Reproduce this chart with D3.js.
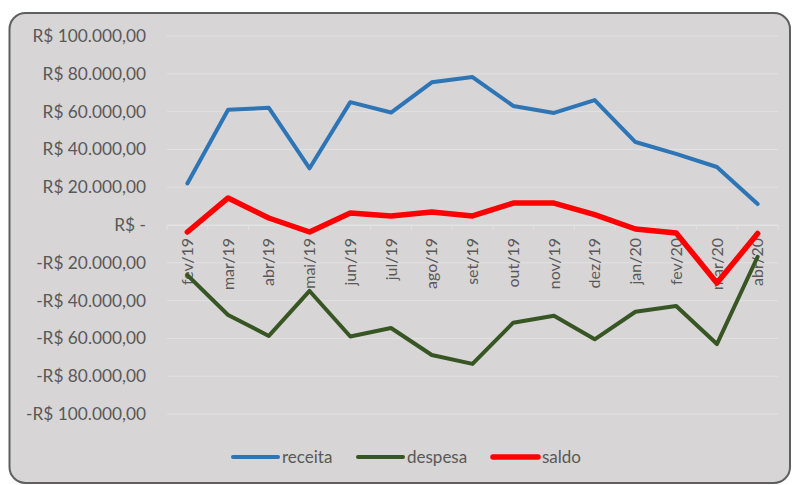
<!DOCTYPE html>
<html><head><meta charset="utf-8">
<script src="https://cdn.jsdelivr.net/npm/d3@7"></script>
<style>body{margin:0;background:#fff;}svg{display:block;}</style>
</head><body><svg id="c" width="792" height="485"></svg>
<script>
const months = ["fev/19","mar/19","abr/19","mai/19","jun/19","jul/19","ago/19","set/19","out/19","nov/19","dez/19","jan/20","fev/20","mar/20","abr/20"];
const receita = [22000,61000,62000,30000,65000,59500,75500,78300,63000,59300,66100,43900,37600,30700,11100];
const despesa = [-26500,-47600,-58700,-34900,-59000,-54500,-68800,-73500,-51700,-48000,-60500,-45900,-42900,-63000,-16800];
const saldo = [-3700,14300,3700,-3700,6300,4800,6900,4800,11600,11600,5500,-2100,-4200,-30700,-4500];
const yTicks = [100000,80000,60000,40000,20000,0,-20000,-40000,-60000,-80000,-100000];
const seriesNames = ["receita","despesa","saldo"];
const colors = ["#2e75b6","#375623","#ff0000"];
const widths = [4,4,5.5];

const svg = d3.select("#c");
const font = "Lato, 'Open Sans', sans-serif";
svg.append("rect").attr("x",9.5).attr("y",13).attr("width",780.5).attr("height",470)
  .attr("rx",16).attr("fill","#d7d5d6").attr("stroke","#5f5f5f").attr("stroke-width",2);

const x = d3.scaleBand().domain(months).range([167,778]);
const y = d3.scaleLinear().domain([-100000,100000]).range([414,36]);

const fmt = v => {
  if (v===0) return "R$ -";
  const s = d3.format(",.2f")(Math.abs(v)).replace(/,/g,"#").replace(".",",").replace(/#/g,".");
  return (v<0?"-":"")+"R$ "+s;
};

const g = svg.append("g");
g.selectAll("line.grid").data(yTicks).join("line").attr("class","grid")
  .attr("x1",167).attr("x2",778).attr("y1",d=>y(d)).attr("y2",d=>y(d))
  .attr("stroke","#e3e2e3").attr("stroke-width",1);

const yAxis = d3.axisLeft(y).tickValues(yTicks).tickFormat(fmt).tickSize(0).tickPadding(0);
const ya = svg.append("g").attr("transform","translate(146,0)").call(yAxis);
ya.select(".domain").remove();
ya.selectAll("text").attr("font-family",font).attr("font-size",17.3).attr("fill","#595959");

// category axis at zero
const xa = svg.append("g").attr("transform",`translate(0,${y(0)})`)
  .call(d3.axisBottom(x).tickSize(0).tickFormat(d=>d));
xa.select(".domain").attr("stroke","#e3e2e3");
xa.selectAll("text").attr("font-family",font).attr("font-size",16).attr("fill","#595959")
  .attr("transform","rotate(-90)").attr("text-anchor","end").attr("dy","0.35em").attr("dx","-13").attr("y",0);
svg.append("g").selectAll("line").data(months.concat(["_end"])).join("line")
  .attr("x1",(d,i)=>167+i*x.step()).attr("x2",(d,i)=>167+i*x.step())
  .attr("y1",y(0)).attr("y2",y(0)+5).attr("stroke","#e3e2e3");

const all = [receita,despesa,saldo];
const line = d3.line().x((d,i)=>x(months[i])+x.bandwidth()/2).y(d=>y(d));
all.forEach((s,k)=>{
  svg.append("path").datum(s).attr("d",line).attr("fill","none")
    .attr("stroke",colors[k]).attr("stroke-width",widths[k]).attr("stroke-linejoin","round").attr("stroke-linecap","round");
});

// legend
const legX = [233,358,493];
const lg = svg.append("g");
seriesNames.forEach((n,k)=>{
  lg.append("line").attr("x1",legX[k]).attr("x2",legX[k]+45).attr("y1",457).attr("y2",457)
    .attr("stroke",colors[k]).attr("stroke-width",widths[k]).attr("stroke-linecap","round");
  lg.append("text").attr("x",legX[k]+49).attr("y",457).attr("dy","0.35em").text(n)
    .attr("font-family",font).attr("font-size",17).attr("fill","#595959");
});
</script></body></html>
